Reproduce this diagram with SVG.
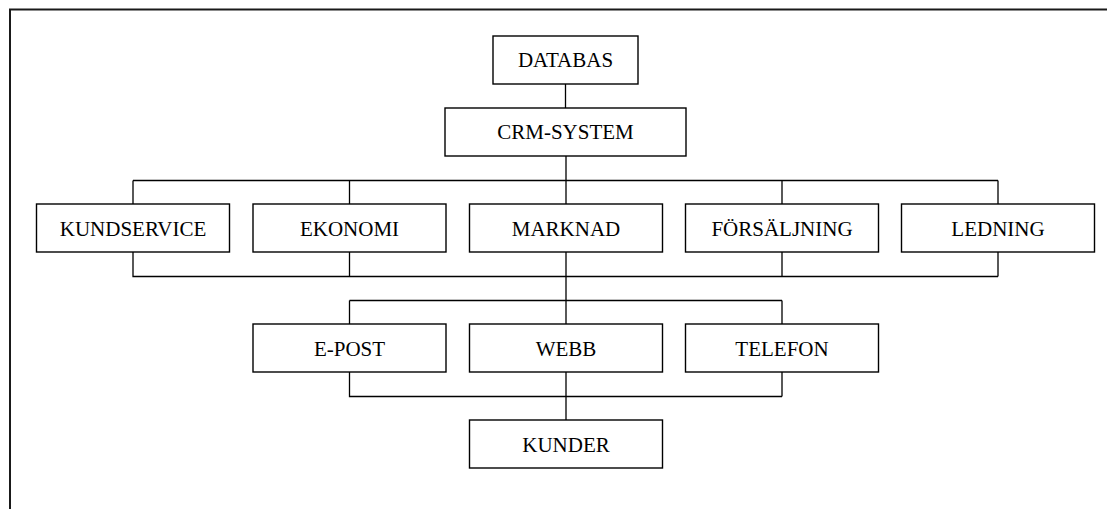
<svg xmlns="http://www.w3.org/2000/svg" width="1107" height="509" viewBox="0 0 1107 509">
<style>
.box{fill:#fff;stroke:#000;stroke-width:1.4}
.lbl{font-family:"Liberation Serif","Times New Roman",serif;font-size:21px;fill:#000;text-anchor:middle}
.ln{fill:none;stroke:#000;stroke-width:1.3}
.frame{fill:none;stroke:#1a1a1a;stroke-width:2}
</style>
<rect x="0" y="0" width="1107" height="509" fill="#fff"/>
<path class="frame" d="M1107 9.5H10V509"/>
<g id="connectors">
<path class="ln" d="M565.5 84V108M566 156V180.5M133 180.5H998M133 180.5V204M349.5 180.5V204M566 180.5V204M782 180.5V204M998 180.5V204"/>
<path class="ln" d="M133 252V276.5H998M349.5 252V276.5M566 252V300.5M782 252V276.5M998 252V276.5"/>
<path class="ln" d="M349.5 300.5H782M349.5 300.5V324M566 300.5V324M782 300.5V324"/>
<path class="ln" d="M349.5 372V396.5H782M566 372V420M782 372V396.5"/>
</g>
<g id="databas"><rect class="box" x="493" y="36" width="145" height="48"/><text class="lbl" x="565.5" y="67">DATABAS</text></g>
<g id="crm"><rect class="box" x="445" y="108" width="241" height="48"/><text class="lbl" x="565.5" y="139">CRM-SYSTEM</text></g>
<g id="kundservice"><rect class="box" x="36.5" y="204" width="193" height="48"/><text class="lbl" x="133" y="235.5">KUNDSERVICE</text></g>
<g id="ekonomi"><rect class="box" x="253" y="204" width="193" height="48"/><text class="lbl" x="349.5" y="235.5">EKONOMI</text></g>
<g id="marknad"><rect class="box" x="469.5" y="204" width="193" height="48"/><text class="lbl" x="566" y="235.5">MARKNAD</text></g>
<g id="forsaljning"><rect class="box" x="685.5" y="204" width="193" height="48"/><text class="lbl" x="782" y="235.5">FÖRSÄLJNING</text></g>
<g id="ledning"><rect class="box" x="901.5" y="204" width="193" height="48"/><text class="lbl" x="998" y="235.5">LEDNING</text></g>
<g id="epost"><rect class="box" x="253" y="324" width="193" height="48"/><text class="lbl" x="349.5" y="355.5">E-POST</text></g>
<g id="webb"><rect class="box" x="469.5" y="324" width="193" height="48"/><text class="lbl" x="566" y="355.5">WEBB</text></g>
<g id="telefon"><rect class="box" x="685.5" y="324" width="193" height="48"/><text class="lbl" x="782" y="355.5">TELEFON</text></g>
<g id="kunder"><rect class="box" x="469.5" y="420" width="193" height="48"/><text class="lbl" x="566" y="451.5">KUNDER</text></g>
</svg>
